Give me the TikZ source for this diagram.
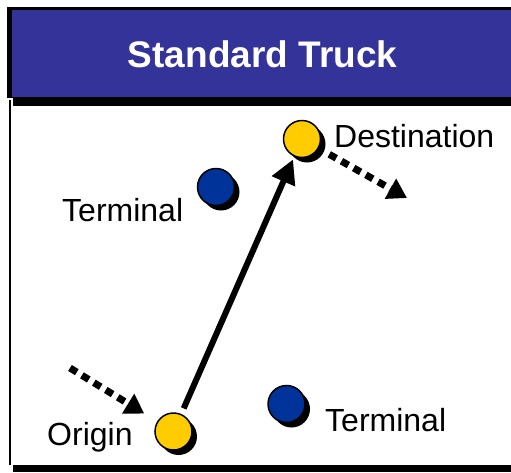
\documentclass[tikz,border=0pt]{standalone}
\usepackage{fontspec}
\setmainfont{Liberation Sans}
\usetikzlibrary{arrows.meta,shadows}
\definecolor{hdrblue}{HTML}{333399}
\definecolor{stopyellow}{HTML}{FFCC00}
\definecolor{termblue}{HTML}{003399}
\begin{document}
\begin{tikzpicture}[x=1pt,y=-1pt,
  stopdot/.style={circle,draw=black,line width=1.5pt,minimum size=37pt,inner sep=0pt,
    drop shadow={shadow xshift=5pt,shadow yshift=-5pt,fill=black,opacity=1}},
  origindot/.style={stopdot,fill=stopyellow},
  termdot/.style={stopdot,fill=termblue},
  placelabel/.style={inner sep=0pt,anchor=base west,font=\fontsize{32}{38}\selectfont},
  route/.style={line width=6pt,-{Triangle[length=24pt,width=24pt]}},
  feeder/.style={line width=7pt,dash pattern=on 8pt off 6pt,-{Triangle[length=19pt,width=22pt]}}]
  \useasboundingbox (0,0) rectangle (511,472);
  % panel frame
  \fill[black] (7,7) rectangle (511,98);
  \fill[hdrblue] (11.5,10) rectangle (511,97);
  \fill[black] (13,97) rectangle (511,106);
  \fill[white] (10,106) rectangle (511,464.5);
  \draw[black,line width=1.5pt] (10.2,100) -- (10.2,464.5);
  \fill[black] (13,464.5) rectangle (511,472);
  \node[anchor=base,text=white,font=\bfseries\fontsize{37}{44}\selectfont,inner sep=0pt] (title) at (262.5,67) {Standard Truck};
  % stops
  \node[origindot] (dest) at (302,139) {};
  \node[origindot] (orig) at (173.5,431.5) {};
  \node[termdot] (term1) at (216,187) {};
  \node[termdot] (term2) at (286.5,404) {};
  % labels
  \node[placelabel] (destlbl) at (334,147) {Destination};
  \node[placelabel] (origlbl) at (47,445) {Origin};
  \node[placelabel] (term1lbl) at (62,221) {Terminal};
  \node[placelabel] (term2lbl) at (325,431.5) {Terminal};
  % movements
  \coordinate (inflow) at (70,368);
  \coordinate (outflow) at (407,198);
  \draw[route,shorten <=6pt,shorten >=3pt] (orig) -- (dest);
  \draw[feeder,shorten >=15pt] (inflow) -- (orig);
  \draw[feeder,shorten <=12pt] (dest) -- (outflow);
\end{tikzpicture}
\end{document}
